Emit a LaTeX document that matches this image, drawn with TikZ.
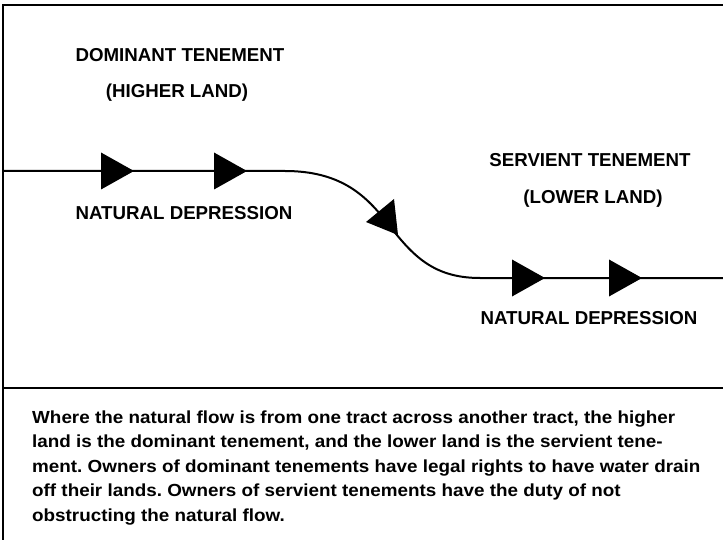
\documentclass[tikz,border=0pt]{standalone}
\usepackage{fontspec}
\setmainfont{Liberation Sans}
\frenchspacing
\begin{document}
\begin{tikzpicture}[x=1pt,y=-1pt,
  frame/.style={line width=1.4pt,black},
  flow/.style={line width=2pt,black},
  lbl/.style={font=\fontsize{18.7}{22}\selectfont\bfseries,inner sep=0pt,anchor=base},
  caption/.style={font=\fontsize{17.5}{24.5}\selectfont\bfseries\addfontfeatures{FakeStretch=1.077},inner sep=0pt,anchor=base west,align=left},
  tri/.pic={\fill[black] (0,-18.5) -- (33,0) -- (0,18.5) -- cycle;}]
\useasboundingbox (0,0) rectangle (723,540);
% frame
\coordinate (tl) at (3,5);
\coordinate (tr) at (723,5);
\coordinate (bl) at (3,540);
\coordinate (sl) at (3,388);
\coordinate (sr) at (723,388);
\draw[frame] (tr) -- (tl) -- (bl);
\draw[frame] (sl) -- (sr);
% labels
\node[lbl] (dom) at (180,62) {DOMINANT TENEMENT};
\node[lbl] (high) at (177,98) {(HIGHER LAND)};
\node[lbl] (nd1) at (184,220) {NATURAL DEPRESSION};
\node[lbl] (serv) at (590,167) {SERVIENT TENEMENT};
\node[lbl] (low) at (593,204) {(LOWER LAND)};
\node[lbl] (nd2) at (589,324) {NATURAL DEPRESSION};
% flow line
\coordinate (f0) at (3,171);
\coordinate (f1) at (285,171);
\coordinate (fm) at (385,220);
\coordinate (f2) at (480,278);
\coordinate (f3) at (723,278);
\draw[flow] (f0) -- (f1) .. controls (340,171) and (365,195) .. (fm)
  .. controls (410,252) and (430,278) .. (f2) -- (f3);
% arrowheads
\pic at (101,171) {tri};
\pic at (214,171) {tri};
\pic at (512,278) {tri};
\pic at (609,278) {tri};
\fill[black] (366,222) -- (394,199) -- (398,235) -- cycle;
% caption, one node per line
\node[caption] (c1) at (32,423) {Where the natural flow is from one tract across another tract, the higher};
\node[caption] (c2) at (32,447.5) {land is the dominant tenement, and the lower land is the servient tene-};
\node[caption] (c3) at (32,472) {ment. Owners of dominant tenements have legal rights to have water drain};
\node[caption] (c4) at (32,496.5) {off their lands. Owners of servient tenements have the duty of not};
\node[caption] (c5) at (32,521) {obstructing the natural flow.};
\end{tikzpicture}
\end{document}
